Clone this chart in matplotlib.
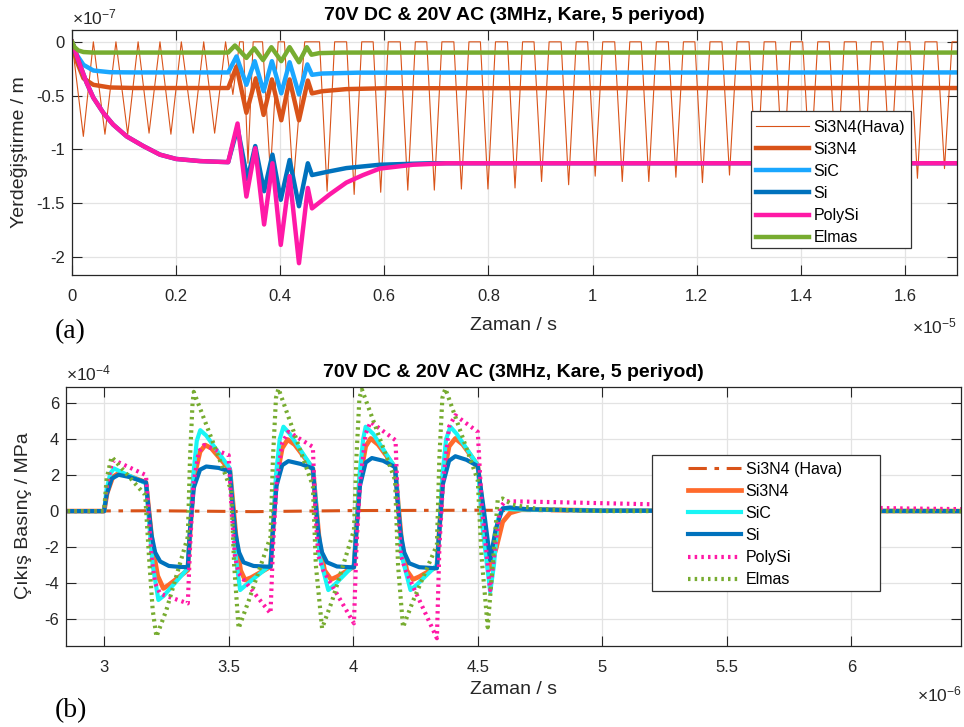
import matplotlib
matplotlib.use("Agg")
import matplotlib.pyplot as plt
from matplotlib.patches import Rectangle
from matplotlib.lines import Line2D

plt.rcParams["font.family"] = ["Liberation Sans", "DejaVu Sans"]
plt.rcParams["axes.unicode_minus"] = False
plt.rcParams["mathtext.fontset"] = "custom"
plt.rcParams["mathtext.rm"] = "Liberation Sans"
plt.rcParams["mathtext.it"] = "Liberation Sans:italic"
plt.rcParams["mathtext.bf"] = "Liberation Sans:bold"

TITLE = "70V DC & 20V AC (3MHz, Kare, 5 periyod)"
LABELS_TOP = ["Si3N4(Hava)", "Si3N4", "SiC", "Si", "PolySi", "Elmas"]
LABELS_BOT = ["Si3N4 (Hava)", "Si3N4", "SiC", "Si", "PolySi", "Elmas"]

# ---------------- (a) displacement, t in 1e-5 s, y in 1e-7 m ----------------
# Si3N4 in air: rounded oscillation before the burst, then flat-top pulses
hava_head = [(0.0, 0.0), (0.0218, -0.88), (0.041, 0.0), (0.0633, -0.86), (0.0844, 0.0),
             (0.107, -0.86), (0.127, 0.0), (0.148, -0.85), (0.169, 0.0), (0.190, -0.86),
             (0.210, 0.0), (0.233, -0.85), (0.253, 0.0), (0.274, -0.85), (0.295, 0.0),
             (0.309, -0.49), (0.322, 0.0), (0.329, 0.0), (0.338, -1.13), (0.348, 0.0),
             (0.366, 0.0), (0.381, -1.22), (0.396, 0.0), (0.408, 0.0), (0.425, -1.33),
             (0.447, 0.0)]
hava_dip_t = [0.490, 0.542, 0.593, 0.645, 0.696, 0.748, 0.799, 0.851, 0.902, 0.954,
              1.005, 1.057, 1.108, 1.160, 1.211, 1.263, 1.315, 1.366, 1.418, 1.469,
              1.521, 1.572, 1.624, 1.676]
hava_dip_y = [-1.39, -1.42, -1.40, -1.38, -1.38, -1.37, -1.37, -1.36, -1.30, -1.33,
              -1.25, -1.30, -1.30, -1.26, -1.31, -1.24, -1.30, -1.27, -1.22, -1.30,
              -1.28, -1.20, -1.27, -1.18]
hava_edge = 0.0145  # duration of each falling / rising flank

si3n4_top = [(0, 0), (0.009, -0.18), (0.022, -0.34), (0.041, -0.40), (0.073, -0.425),
             (0.12, -0.43), (0.300, -0.43), (0.316, -0.23), (0.335, -0.66), (0.353, -0.34),
             (0.368, -0.68), (0.384, -0.35), (0.402, -0.73), (0.418, -0.35), (0.436, -0.73),
             (0.453, -0.36), (0.461, -0.48), (0.48, -0.46), (0.527, -0.44), (0.6, -0.432),
             (1.7, -0.43)]
sic_top = [(0, 0), (0.009, -0.12), (0.022, -0.214), (0.041, -0.267), (0.073, -0.283),
           (0.12, -0.285), (0.300, -0.285), (0.316, -0.136), (0.335, -0.40), (0.351, -0.18),
           (0.368, -0.46), (0.384, -0.18), (0.402, -0.48), (0.418, -0.19), (0.436, -0.49),
           (0.452, -0.21), (0.461, -0.307), (0.48, -0.295), (0.55, -0.287), (1.7, -0.285)]
si_top = [(0, 0), (0.015, -0.21), (0.028, -0.38), (0.041, -0.52), (0.06, -0.66),
          (0.079, -0.77), (0.105, -0.88), (0.137, -0.97), (0.169, -1.05), (0.2, -1.09),
          (0.246, -1.11), (0.300, -1.12), (0.318, -0.80), (0.337, -1.28), (0.352, -0.97),
          (0.369, -1.39), (0.385, -1.05), (0.401, -1.47), (0.418, -1.10), (0.436, -1.53),
          (0.453, -1.13), (0.461, -1.24), (0.49, -1.21), (0.527, -1.175), (0.591, -1.144),
          (0.687, -1.13), (1.7, -1.13)]
polysi_top = [(0, 0), (0.015, -0.21), (0.028, -0.38), (0.041, -0.52), (0.06, -0.66),
              (0.079, -0.77), (0.105, -0.88), (0.137, -0.97), (0.169, -1.05), (0.2, -1.09),
              (0.246, -1.11), (0.300, -1.12), (0.318, -0.76), (0.335, -1.44), (0.352, -0.99),
              (0.369, -1.70), (0.385, -1.13), (0.401, -1.89), (0.418, -1.25), (0.436, -2.06),
              (0.453, -1.36), (0.461, -1.55), (0.495, -1.42), (0.527, -1.31), (0.559, -1.24),
              (0.591, -1.18), (0.655, -1.144), (0.719, -1.13), (1.7, -1.13)]
elmas_top = [(0, 0), (0.005, -0.05), (0.012, -0.08), (0.022, -0.095), (0.04, -0.1),
             (0.300, -0.1), (0.313, -0.034), (0.335, -0.15), (0.350, -0.06), (0.367, -0.17),
             (0.383, -0.05), (0.402, -0.18), (0.418, -0.05), (0.436, -0.19), (0.451, -0.05),
             (0.460, -0.12), (0.475, -0.105), (0.52, -0.1), (1.7, -0.1)]

# ---------------- (b) output pressure, t in 1e-6 s, p in 1e-4 MPa ----------------
hava_bot = [(2.8, 0), (3.2, 0.02), (3.6, -0.03), (4.0, 0.03), (4.5, 0.05), (5.0, 0.0), (6.5, 0)]
si3n4_bot = [(2.80, 0), (3.000, 0), (3.012, 1.0), (3.035, 1.9), (3.060, 2.12), (3.100, 1.95),
             (3.168, 1.60), (3.180, 0.0), (3.195, -2.0), (3.215, -3.6), (3.238, -4.3),
             (3.260, -4.1), (3.336, -3.28), (3.346, -1.0), (3.360, 1.8), (3.385, 3.3),
             (3.406, 3.67), (3.430, 3.5), (3.505, 2.28), (3.517, 0.5), (3.532, -1.8),
             (3.548, -3.3), (3.566, -3.83), (3.590, -3.7), (3.668, -3.09), (3.678, -1.0),
             (3.692, 1.8), (3.715, 3.5), (3.737, 3.98), (3.765, 3.7), (3.838, 2.37),
             (3.850, 0.5), (3.865, -1.8), (3.885, -3.3), (3.911, -3.8), (3.935, -3.65),
             (4.003, -3.09), (4.013, -1.0), (4.027, 1.8), (4.050, 3.6), (4.070, 4.04),
             (4.100, 3.7), (4.168, 2.43), (4.180, 0.5), (4.195, -1.8), (4.215, -3.3),
             (4.240, -3.8), (4.265, -3.65), (4.336, -3.09), (4.346, -1.0), (4.360, 1.8),
             (4.385, 3.6), (4.410, 4.04), (4.440, 3.7), (4.500, 2.55), (4.525, -0.5),
             (4.550, -3.2), (4.575, -2.0), (4.600, -0.6), (4.630, -0.1), (4.680, 0.1),
             (5.0, 0.03), (6.5, 0.0)]
sic_bot = [(2.80, 0), (3.000, 0), (3.010, 1.2), (3.025, 2.1), (3.040, 2.37), (3.080, 2.1),
           (3.168, 1.54), (3.180, -0.5), (3.195, -3.0), (3.218, -4.94), (3.240, -4.7),
           (3.336, -3.18), (3.345, -1.0), (3.358, 2.0), (3.372, 3.9), (3.386, 4.5),
           (3.410, 4.2), (3.505, 2.37), (3.515, 0.5), (3.528, -2.5), (3.546, -4.39),
           (3.570, -4.1), (3.668, -3.0), (3.678, -1.0), (3.690, 2.0), (3.705, 4.0),
           (3.720, 4.69), (3.745, 4.3), (3.838, 2.37), (3.850, 0.5), (3.865, -2.5),
           (3.900, -4.39), (3.925, -4.1), (4.003, -3.0), (4.013, -1.0), (4.025, 2.0),
           (4.040, 4.0), (4.050, 4.69), (4.080, 4.3), (4.168, 2.43), (4.180, 0.5),
           (4.195, -2.5), (4.230, -4.39), (4.255, -4.1), (4.336, -3.0), (4.346, -1.0),
           (4.358, 2.0), (4.373, 4.0), (4.390, 4.69), (4.415, 4.3), (4.500, 2.55),
           (4.520, -1.0), (4.550, -4.5), (4.565, -3.0), (4.580, -0.5), (4.600, 0.15),
           (4.640, 0.1), (5.0, 0.03), (6.5, 0)]
si_bot = [(2.80, 0), (3.000, 0), (3.010, 0.9), (3.030, 1.8), (3.058, 2.02), (3.100, 1.9),
          (3.168, 1.60), (3.178, 0.2), (3.190, -1.3), (3.205, -2.3), (3.225, -2.8),
          (3.260, -3.05), (3.300, -3.10), (3.336, -3.12), (3.345, -1.0), (3.360, 1.3),
          (3.385, 2.3), (3.410, 2.48), (3.460, 2.40), (3.505, 2.20), (3.515, 0.5),
          (3.527, -1.2), (3.542, -2.3), (3.560, -2.85), (3.600, -3.05), (3.668, -3.10),
          (3.678, -1.0), (3.692, 1.4), (3.715, 2.55), (3.740, 2.78), (3.790, 2.62),
          (3.838, 2.37), (3.848, 0.6), (3.860, -1.2), (3.875, -2.3), (3.895, -2.85),
          (3.935, -3.08), (4.003, -3.13), (4.013, -1.0), (4.027, 1.4), (4.050, 2.7),
          (4.075, 2.95), (4.120, 2.80), (4.168, 2.45), (4.178, 0.6), (4.190, -1.2),
          (4.205, -2.3), (4.225, -2.9), (4.265, -3.12), (4.336, -3.18), (4.346, -1.0),
          (4.360, 1.5), (4.385, 2.8), (4.410, 3.05), (4.455, 2.85), (4.500, 2.50),
          (4.525, 0.0), (4.550, -2.72), (4.572, -1.0), (4.600, 0.15), (4.630, 0.2),
          (4.700, 0.1), (5.000, 0.02), (6.5, 0)]
polysi_bot = [(2.80, 0), (3.000, 0), (3.012, 1.5), (3.030, 2.6), (3.040, 2.83), (3.168, 2.0),
              (3.178, 0.0), (3.190, -2.5), (3.205, -4.0), (3.225, -4.6), (3.336, -5.13),
              (3.345, -2.0), (3.358, 1.5), (3.380, 3.3), (3.400, 3.67), (3.500, 3.11),
              (3.512, 0.0), (3.525, -2.5), (3.540, -3.46), (3.668, -5.69), (3.678, -2.0),
              (3.692, 1.5), (3.715, 3.8), (3.740, 4.41), (3.838, 3.57), (3.848, 0.0),
              (3.860, -2.5), (3.880, -3.3), (4.003, -6.24), (4.013, -2.0), (4.027, 1.5),
              (4.050, 4.3), (4.070, 4.96), (4.170, 3.94), (4.180, 0.0), (4.192, -2.5),
              (4.210, -3.28), (4.336, -7.07), (4.346, -2.0), (4.360, 1.5), (4.385, 4.7),
              (4.410, 5.33), (4.500, 4.41), (4.515, 0.5), (4.550, -4.39), (4.570, -2.0),
              (4.590, 0.2), (4.610, 0.55), (4.800, 0.5), (5.300, 0.35), (5.800, 0.25),
              (6.200, 0.15), (6.5, 0.1)]
elmas_bot = [(2.80, 0), (3.000, 0), (3.010, 1.8), (3.030, 3.02), (3.165, 0.89), (3.180, -2.5),
             (3.195, -5.5), (3.210, -6.98), (3.250, -5.5), (3.336, -1.43), (3.345, 3.0),
             (3.355, 6.0), (3.360, 6.63), (3.510, 1.17), (3.522, -3.0), (3.540, -6.52),
             (3.580, -5.0), (3.668, -1.43), (3.678, 3.0), (3.690, 6.3), (3.700, 6.81),
             (3.838, 1.4), (3.850, -3.0), (3.875, -6.52), (3.915, -5.0), (4.003, -1.06),
             (4.013, 3.0), (4.025, 6.3), (4.035, 6.76), (4.168, 1.72), (4.180, -3.0),
             (4.200, -6.46), (4.240, -5.0), (4.336, -1.89), (4.346, 3.0), (4.358, 6.3),
             (4.370, 6.81), (4.500, 1.72), (4.515, -2.5), (4.540, -6.46), (4.560, -3.0),
             (4.580, 0.61), (4.600, 0.7), (4.640, 0.35), (4.750, 0.1), (5.000, 0.0), (6.5, 0.0)]

C_ORANGE = "#D95319"
C_ORANGE2 = "#FF6A2B"
C_SIC_TOP = "#1AA7FF"
C_CYAN = "#19F5F5"
C_BLUE = "#0072BD"
C_PINK = "#FF19A6"
C_GREEN = "#77AC30"
INK = "#262626"
W = 964.0
H = 727.0


def xy(points):
    return [p[0] for p in points], [p[1] for p in points]


def hava_polyline():
    pts = list(hava_head)
    for t, v in zip(hava_dip_t, hava_dip_y):
        pts += [(t - hava_edge, 0.0), (t, v), (t + hava_edge, 0.0)]
    pts.append((1.7, 0.0))
    return xy(pts)


def style(ax):
    ax.grid(True, color="#E3E3E3", lw=0.9)
    ax.set_axisbelow(True)
    ax.tick_params(direction="in", length=7, width=0.8, top=True, right=True,
                   labelsize=12, colors=INK)
    ax.tick_params(axis="x", pad=10)
    ax.tick_params(axis="y", pad=5)
    for s in ax.spines.values():
        s.set_color(INK)
        s.set_linewidth(0.9)


def framed_legend(ax, handles, labels, box_px, anchor_px, **kw):
    x0, y0, x1, y1 = box_px
    ax.add_patch(Rectangle((x0 / W, 1 - y1 / H), (x1 - x0) / W, (y1 - y0) / H,
                           transform=ax.figure.transFigure, facecolor="white",
                           edgecolor="#333333", lw=0.9, zorder=4.5, clip_on=False))
    leg = ax.legend(handles, labels, loc="upper left",
                    bbox_to_anchor=(anchor_px[0] / W, 1 - anchor_px[1] / H),
                    bbox_transform=ax.figure.transFigure, frameon=False,
                    borderpad=0, borderaxespad=0, fontsize=11.5, **kw)
    leg.set_zorder(5)
    for t in leg.get_texts():
        t.set_color("black")
    return leg


fig = plt.figure(figsize=(9.64, 7.27), dpi=100)

# ---- panel (a)
ax1 = fig.add_axes([72 / W, 1 - 275 / H, 885 / W, 245 / H])
style(ax1)
hx, hy = hava_polyline()
ax1.plot(hx, hy, color=C_ORANGE, lw=0.8)
ax1.plot(*xy(si3n4_top), color=C_ORANGE, lw=3.2)
ax1.plot(*xy(sic_top), color=C_SIC_TOP, lw=3.2)
ax1.plot(*xy(si_top), color=C_BLUE, lw=3.2)
ax1.plot(*xy(polysi_top), color=C_PINK, lw=3.2)
ax1.plot(*xy(elmas_top), color=C_GREEN, lw=3.2)
ax1.set_xlim(0, 1.7)
ax1.set_ylim(-2.17, 0.11)
ax1.set_xticks([0, 0.2, 0.4, 0.6, 0.8, 1.0, 1.2, 1.4, 1.6])
ax1.set_xticklabels(["0", "0.2", "0.4", "0.6", "0.8", "1", "1.2", "1.4", "1.6"])
ax1.set_yticks([-2, -1.5, -1, -0.5, 0])
ax1.set_yticklabels(["-2", "-1.5", "-1", "-0.5", "0"])
ax1.set_title(TITLE, fontsize=14, fontweight="bold", color="black", pad=7)
ax1.text(0.0, 1.012, r"$\times10^{-7}$", transform=ax1.transAxes, fontsize=12.5,
         color=INK, ha="left", va="bottom")
fig.text(957 / W, 1 - 333 / H, r"$\times10^{-5}$", fontsize=12.5, color=INK,
         ha="right", va="baseline")
fig.text(514 / W, 1 - 326 / H, "Zaman / s", fontsize=14, color=INK, ha="center", va="center")
fig.text(20 / W, 1 - 152 / H, "Yerdeğiştirme / m", fontsize=14, color=INK,
         rotation=90, ha="center", va="center")
fig.text(55 / W, 1 - 338 / H, "(a)", fontsize=20, family="Liberation Serif",
         color="black", ha="left", va="baseline")

h_top = [Line2D([], [], color=C_ORANGE, lw=0.8),
         Line2D([], [], color=C_ORANGE, lw=3.2),
         Line2D([], [], color=C_SIC_TOP, lw=3.2),
         Line2D([], [], color=C_BLUE, lw=3.2),
         Line2D([], [], color=C_PINK, lw=3.2),
         Line2D([], [], color=C_GREEN, lw=3.2)]
framed_legend(ax1, h_top, LABELS_TOP, (751, 111, 911, 248), (756, 120),
              handlelength=3.3, handletextpad=0.3, labelspacing=0.44)

# ---- panel (b)
ax2 = fig.add_axes([66 / W, 1 - 646 / H, 895 / W, 259 / H])
style(ax2)
ax2.plot(*xy(hava_bot), color=C_ORANGE, lw=2.2, dashes=(6, 2.5, 1.5, 2.5))
ax2.plot(*xy(si3n4_bot), color=C_ORANGE2, lw=3.4)
ax2.plot(*xy(sic_bot), color=C_CYAN, lw=3.0)
ax2.plot(*xy(si_bot), color=C_BLUE, lw=3.0)
ax2.plot(*xy(polysi_bot), color=C_PINK, lw=3.0, ls=(0, (0.6, 1.0)))
ax2.plot(*xy(elmas_bot), color=C_GREEN, lw=3.0, ls=(0, (0.6, 1.0)))
ax2.set_xlim(2.847, 6.44)
ax2.set_ylim(-7.5, 6.9)
ax2.set_xticks([3, 3.5, 4, 4.5, 5, 5.5, 6])
ax2.set_xticklabels(["3", "3.5", "4", "4.5", "5", "5.5", "6"])
ax2.set_yticks([-6, -4, -2, 0, 2, 4, 6])
ax2.set_yticklabels(["-6", "-4", "-2", "0", "2", "4", "6"])
ax2.set_title(TITLE, fontsize=14, fontweight="bold", color="black", pad=7)
ax2.text(0.0, 1.012, r"$\times10^{-4}$", transform=ax2.transAxes, fontsize=12.5,
         color=INK, ha="left", va="bottom")
fig.text(962 / W, 1 - 701 / H, r"$\times10^{-6}$", fontsize=12.5, color=INK,
         ha="right", va="baseline")
fig.text(514 / W, 1 - 690 / H, "Zaman / s", fontsize=14, color=INK, ha="center", va="center")
fig.text(24 / W, 1 - 516 / H, "Çıkış Basınç / MPa", fontsize=14, color=INK,
         rotation=90, ha="center", va="center")
fig.text(55 / W, 1 - 717 / H, "(b)", fontsize=20, family="Liberation Serif",
         color="black", ha="left", va="baseline")

h_bot = [Line2D([], [], color=C_ORANGE, lw=2.2, dashes=(6, 2.5, 1.5, 2.5)),
         Line2D([], [], color=C_ORANGE2, lw=3.4),
         Line2D([], [], color=C_CYAN, lw=3.0),
         Line2D([], [], color=C_BLUE, lw=3.0),
         Line2D([], [], color=C_PINK, lw=3.0, ls=(0, (0.6, 1.0))),
         Line2D([], [], color=C_GREEN, lw=3.0, ls=(0, (0.6, 1.0)))]
framed_legend(ax2, h_bot, LABELS_BOT, (652, 455, 880, 591), (688, 462),
              handlelength=3.3, handletextpad=0.3, labelspacing=0.44)

fig.savefig("out.png", dpi=100)
